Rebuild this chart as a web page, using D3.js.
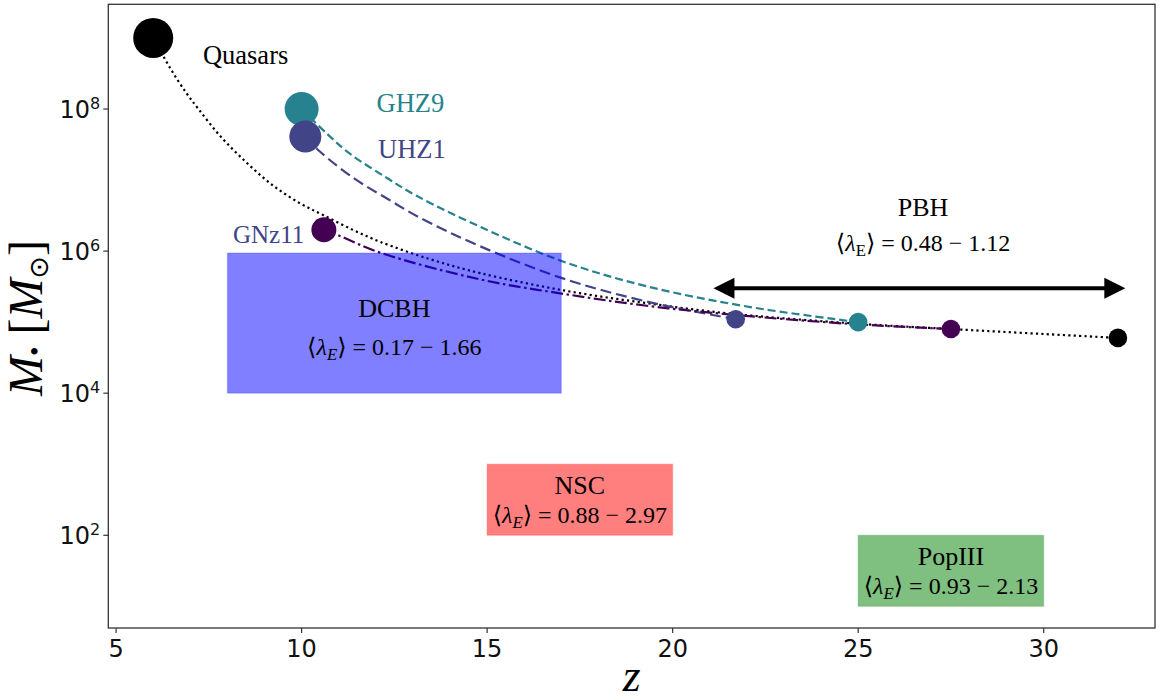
<!DOCTYPE html>
<html>
<head>
<meta charset="utf-8">
<script src="https://cdn.jsdelivr.net/npm/d3@7"></script>
<style>
  html, body { margin: 0; padding: 0; background: #fff; }
  svg { display: block; }
</style>
</head>
<body>
<svg id="chart" width="1163" height="700"></svg>
<script>
// ---------------- data ----------------
// Quasar track (black dotted)
const quasarZ = [6.0, 6.46, 6.9, 7.22, 7.8, 8.52, 9.24, 9.96, 10.59, 11.4, 12.12, 13.46, 14.81, 17.06, 19.3, 21.55, 25.0, 27.5, 32.0];
const quasarM = [1.0e9, 3.75e8, 1.66e8, 1.0e8, 4.2e7, 1.75e7, 8.3e6, 4.7e6, 3.2e6, 1.97e6, 1.35e6, 7.7e5, 4.9e5, 2.8e5, 1.85e5, 1.32e5, 9.5e4, 8.0e4, 6.0e4];
// GHZ9 track (teal dashed)
const ghz9Z = [10.0, 10.68, 11.3, 12.3, 13.1, 14.81, 17.06, 19.3, 22.0, 25.0];
const ghz9M = [1.0e8, 4.5e7, 2.35e7, 1.07e7, 6.0e6, 2.2e6, 7.1e5, 3.2e5, 1.66e5, 1.0e5];
// UHZ1 track (slate dashed)
const uhz1Z = [10.1, 10.5, 11.4, 12.3, 13.19, 14.81, 17.06, 19.3, 21.7];
const uhz1M = [4.1e7, 2.5e7, 1.07e7, 5.5e6, 2.95e6, 1.17e6, 4.1e5, 1.95e5, 1.1e5];
// GNz11 track (purple dash-dot)
const gnz11Z = [10.6, 11.0, 12.12, 14.81, 17.06, 19.3, 21.7, 25.0, 27.5];
const gnz11M = [2.0e6, 1.66e6, 9.5e5, 4.0e5, 2.5e5, 1.7e5, 1.26e5, 9.3e4, 8.0e4];

// markers: observed (big) and seed (small) points
const objNames   = ["Quasars", "GHZ9", "UHZ1", "GNz11"];
const objColors  = ["#000000", "#26828e", "#414487", "#440154"];
const obsZ       = [6.0, 10.0, 10.1, 10.6];
const obsM       = [1.0e9, 1.0e8, 4.1e7, 2.0e6];
const obsR       = [20, 17, 16, 12.5];
const seedZ      = [32.0, 25.0, 21.7, 27.5];
const seedM      = [6.0e4, 1.0e5, 1.1e5, 8.0e4];

// object labels
const labelText  = ["Quasars", "GHZ9", "UHZ1", "GNz11"];
const labelColor = ["#000000", "#26828e", "#414487", "#414487"];
const labelZ     = [7.34, 12.02, 12.06, 8.15];
const labelM     = [4.25e8, 9.2e7, 2.05e7, 1.3e6];
const labelSize  = [26.5, 26.5, 26.5, 25];

// seed regions
const boxNames  = ["DCBH", "NSC", "PopIII"];
const boxLambda = ["0.17 − 1.66", "0.88 − 2.97", "0.93 − 2.13"];
const boxZ0     = [8, 15, 25];
const boxZ1     = [17, 20, 30];
const boxM0     = [1.0e4, 1.0e2, 1.0e1];
const boxM1     = [9.4e5, 1.0e3, 1.0e2];
const boxColors = ["blue", "red", "green"];

// PBH arrow
const pbhZ = [21.1, 32.2];
const pbhM = 3.0e5;
const pbhLambda = "0.48 − 1.12";

// axis ticks
const xTicks = [5, 10, 15, 20, 25, 30];
const yTickExp = [2, 4, 6, 8];

// ---------------- chart ----------------
const svg = d3.select("#chart");
const L = 108.3, R = 1155, T = 4.3, B = 628;

const x = d3.scaleLinear().domain([4.79, 33.0]).range([L, R]);
const y = d3.scaleLog().domain([Math.pow(10, 0.695), Math.pow(10, 9.474)]).range([B, T]);

const serif = "'Liberation Serif', 'Times New Roman', 'DejaVu Serif', serif";
const sans = "'DejaVu Sans', sans-serif";

// tracks
const line = d3.line().x(d => x(d[0])).y(d => y(d[1])).curve(d3.curveCatmullRom.alpha(0.5));
const tracks = [
  { z: quasarZ, m: quasarM, color: "#000000", dash: "2.2,3.2", w: 2.2 },
  { z: ghz9Z,  m: ghz9M,  color: "#26828e", dash: "8,4", w: 2.2 },
  { z: uhz1Z,  m: uhz1M,  color: "#414487", dash: "11,5", w: 2.2 },
  { z: gnz11Z, m: gnz11M, color: "#440154", dash: "12,3.5,2.5,3.5", w: 2.2 }
];
const gTracks = svg.append("g");
tracks.forEach(t => {
  gTracks.append("path")
    .datum(t.z.map((v, i) => [v, t.m[i]]))
    .attr("d", line)
    .attr("fill", "none")
    .attr("stroke", t.color)
    .attr("stroke-width", t.w)
    .attr("stroke-dasharray", t.dash);
});

// markers
const gMarks = svg.append("g");
objNames.forEach((n, i) => {
  gMarks.append("circle")
    .attr("cx", x(obsZ[i])).attr("cy", y(obsM[i])).attr("r", obsR[i])
    .attr("fill", objColors[i]);
  gMarks.append("circle")
    .attr("cx", x(seedZ[i])).attr("cy", y(seedM[i])).attr("r", 9.3)
    .attr("fill", objColors[i]);
});

// boxes
const gBoxes = svg.append("g");
boxNames.forEach((n, i) => {
  const x0 = x(boxZ0[i]), x1 = x(boxZ1[i]);
  const y0 = y(boxM1[i]), y1 = y(boxM0[i]);
  gBoxes.append("rect")
    .attr("x", x0).attr("y", y0).attr("width", x1 - x0).attr("height", y1 - y0)
    .attr("fill", boxColors[i]).attr("fill-opacity", 0.5)
    .attr("stroke", boxColors[i]).attr("stroke-opacity", 0.15).attr("stroke-width", 1.5);
});

// lambda text helper
function lambdaText(g, cx, cy, val, upright, size) {
  const t = g.append("text")
    .attr("x", cx).attr("y", cy)
    .attr("text-anchor", "middle")
    .attr("font-family", serif)
    .attr("font-size", size)
    .attr("fill", "#000");
  t.append("tspan").text("⟨");
  t.append("tspan").attr("font-style", "italic").text("λ");
  t.append("tspan").attr("font-size", size * 0.7).attr("dy", 5)
    .attr("font-style", upright ? "normal" : "italic").text("E");
  t.append("tspan").attr("dy", -5).text("⟩");
  t.append("tspan").text(" = " + val);
}

// box labels
const gText = svg.append("g");
boxNames.forEach((n, i) => {
  const cx = (x(boxZ0[i]) + x(boxZ1[i])) / 2;
  const yTop = y(boxM1[i]), yBot = y(boxM0[i]);
  const h = yBot - yTop;
  let ty1, ty2;
  if (i === 0) { ty1 = yTop + 64; ty2 = yTop + 102; }
  else { ty1 = yTop + 0.42 * h; ty2 = yTop + 0.83 * h; }
  gText.append("text").attr("x", cx).attr("y", ty1)
    .attr("text-anchor", "middle").attr("font-family", serif).attr("font-size", 26)
    .text(n);
  lambdaText(gText, cx, ty2, boxLambda[i], false, 24);
});

// PBH arrow
const ay = y(pbhM);
const ax0 = x(pbhZ[0]), ax1 = x(pbhZ[1]);
const headL = 21, headW = 10.5;
svg.append("line")
  .attr("x1", ax0 + headL - 2).attr("x2", ax1 - headL + 2)
  .attr("y1", ay).attr("y2", ay)
  .attr("stroke", "#000").attr("stroke-width", 4);
svg.append("path")
  .attr("d", `M${ax0},${ay} L${ax0 + headL},${ay - headW} L${ax0 + headL},${ay + headW} Z`)
  .attr("fill", "#000");
svg.append("path")
  .attr("d", `M${ax1},${ay} L${ax1 - headL},${ay - headW} L${ax1 - headL},${ay + headW} Z`)
  .attr("fill", "#000");
const pbhCx = x(26.75);
gText.append("text").attr("x", pbhCx).attr("y", ay - 72)
  .attr("text-anchor", "middle").attr("font-family", serif).attr("font-size", 26)
  .text("PBH");
lambdaText(gText, pbhCx, ay - 37, pbhLambda, true, 24);

// object labels
labelText.forEach((t, i) => {
  gText.append("text")
    .attr("x", x(labelZ[i])).attr("y", y(labelM[i]))
    .attr("font-family", serif).attr("font-size", labelSize[i])
    .attr("fill", labelColor[i])
    .text(t);
});

// axes frame
svg.append("rect")
  .attr("x", L).attr("y", T).attr("width", R - L).attr("height", B - T)
  .attr("fill", "none").attr("stroke", "#333").attr("stroke-width", 1.3);

// x ticks
const gx = svg.append("g");
xTicks.forEach(v => {
  gx.append("line").attr("x1", x(v)).attr("x2", x(v)).attr("y1", B).attr("y2", B + 5)
    .attr("stroke", "#333").attr("stroke-width", 1.2);
  gx.append("text").attr("x", x(v)).attr("y", B + 29)
    .attr("text-anchor", "middle").attr("font-family", sans).attr("font-size", 24)
    .attr("fill", "#111").text(v);
});
// y ticks
const gy = svg.append("g");
yTickExp.forEach(e => {
  const yy = y(Math.pow(10, e));
  gy.append("line").attr("x1", L - 5).attr("x2", L).attr("y1", yy).attr("y2", yy)
    .attr("stroke", "#333").attr("stroke-width", 1.2);
  const t = gy.append("text").attr("x", L - 8).attr("y", yy + 9)
    .attr("text-anchor", "end").attr("font-family", sans).attr("font-size", 24)
    .attr("fill", "#111");
  t.append("tspan").text("10");
  t.append("tspan").attr("font-size", 16).attr("dy", -9).text(e);
});

// axis titles
svg.append("text").attr("x", (L + R) / 2).attr("y", 691)
  .attr("text-anchor", "middle").attr("font-family", serif).attr("font-size", 46)
  .attr("font-style", "italic").text("z");

const yt = svg.append("text")
  .attr("transform", `translate(42,318) rotate(-90)`)
  .attr("text-anchor", "middle").attr("font-family", serif).attr("font-size", 48);
yt.append("tspan").attr("font-style", "italic").text("M");
yt.append("tspan").attr("font-size", 27).attr("dy", 2).text("•");
yt.append("tspan").attr("dy", -2).text(" [");
yt.append("tspan").attr("font-style", "italic").text("M");
yt.append("tspan").attr("font-family", sans).attr("font-size", 27).attr("dy", 6).text("⊙");
yt.append("tspan").attr("dy", -6).text("]");
</script>
</body>
</html>
